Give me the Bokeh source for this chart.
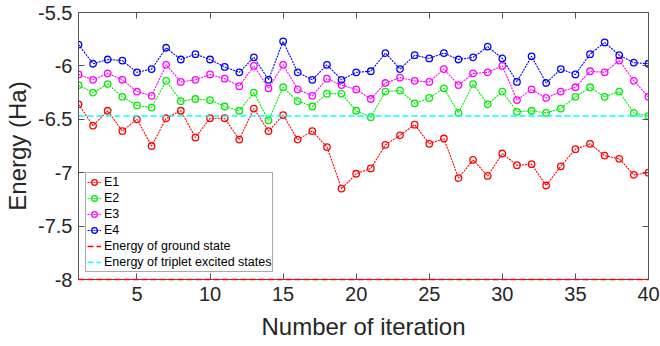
from bokeh.plotting import figure
from bokeh.models import (Range1d, LinearAxis, FixedTicker, CustomJSTickFormatter,
                          Legend, LegendItem)
from bokeh.embed import file_html
from bokeh.resources import INLINE

iters = list(range(1, 41))
E1 = [-6.36, -6.56, -6.42, -6.61, -6.50, -6.75, -6.49, -6.42, -6.67, -6.49,
      -6.49, -6.69, -6.40, -6.61, -6.46, -6.69, -6.61, -6.76, -7.15, -7.01,
      -6.96, -6.74, -6.65, -6.55, -6.73, -6.68, -7.05, -6.88, -7.03, -6.82,
      -6.93, -6.92, -7.12, -6.94, -6.78, -6.73, -6.84, -6.87, -7.02, -7.00]
E2 = [-6.18, -6.25, -6.17, -6.29, -6.37, -6.39, -6.14, -6.33, -6.31, -6.32,
      -6.38, -6.42, -6.25, -6.51, -6.20, -6.33, -6.38, -6.26, -6.26, -6.42,
      -6.48, -6.24, -6.23, -6.35, -6.30, -6.21, -6.44, -6.17, -6.36, -6.24,
      -6.43, -6.42, -6.44, -6.40, -6.29, -6.20, -6.29, -6.24, -6.44, -6.47]
E3 = [-6.08, -6.13, -6.07, -6.13, -6.24, -6.28, -5.99, -6.15, -6.13, -6.08,
      -6.12, -6.19, -6.00, -6.21, -5.99, -6.22, -6.28, -6.12, -6.18, -6.22,
      -6.31, -6.16, -6.11, -6.14, -6.15, -6.03, -6.18, -6.07, -6.06, -6.00,
      -6.32, -6.22, -6.30, -6.24, -6.20, -6.05, -6.06, -5.95, -6.14, -6.29]
E4 = [-5.80, -5.98, -5.94, -5.95, -6.06, -6.03, -5.83, -5.94, -5.89, -5.94,
      -6.01, -6.06, -5.92, -6.13, -5.77, -6.06, -6.13, -5.99, -6.13, -6.06,
      -6.05, -5.88, -6.03, -5.90, -5.93, -5.88, -5.94, -5.92, -5.82, -5.93,
      -6.15, -5.91, -6.16, -6.03, -6.08, -5.89, -5.78, -5.90, -5.97, -5.98]
ground_energy = -8.0
triplet_energy = -6.47

series_names = ["E1", "E2", "E3", "E4"]
series_colors = ["#ff0000", "#00ee00", "#ff00ff", "#0000ff"]
x_ticks = [5, 10, 15, 20, 25, 30, 35, 40]
y_ticks = [-8, -7.5, -7, -6.5, -6, -5.5]

FONT = "Liberation Sans"
AX = "#555555"
TXT = "#262626"

p = figure(width=660, height=346, x_range=Range1d(1, 40), y_range=Range1d(-8, -5.5),
           output_backend="svg", toolbar_location=None,
           min_border_left=78, min_border_right=12, min_border_top=12, min_border_bottom=67)
p.grid.visible = False
p.outline_line_color = None
p.background_fill_color = "white"

fmt = CustomJSTickFormatter(code="return tick.toString()")
blank = CustomJSTickFormatter(code="return ''")

for ax in p.xaxis:
    ax.ticker = FixedTicker(ticks=x_ticks)
    ax.axis_label = "Number of iteration"
    ax.major_label_standoff = 7
    ax.axis_label_standoff = 9
for ax in p.yaxis:
    ax.ticker = FixedTicker(ticks=y_ticks)
    ax.axis_label = "Energy (Ha)"
    ax.major_label_standoff = 6
    ax.axis_label_standoff = 4
for ax in list(p.xaxis) + list(p.yaxis):
    ax.formatter = fmt
    ax.major_tick_in = 6
    ax.major_tick_out = 0
    ax.minor_tick_line_color = None
    ax.axis_line_color = AX
    ax.major_tick_line_color = AX
    ax.major_label_text_font = FONT
    ax.major_label_text_font_size = "20px"
    ax.major_label_text_color = TXT
    ax.axis_label_text_font = FONT
    ax.axis_label_text_font_size = "24px"
    ax.axis_label_text_font_style = "normal"
    ax.axis_label_text_color = TXT

top = LinearAxis(ticker=FixedTicker(ticks=x_ticks), formatter=blank)
right = LinearAxis(ticker=FixedTicker(ticks=y_ticks), formatter=blank)
for ax in (top, right):
    ax.major_tick_in = 6
    ax.major_tick_out = 0
    ax.minor_tick_line_color = None
    ax.axis_line_color = AX
    ax.major_tick_line_color = AX
    ax.major_label_text_font_size = "0px"
    ax.major_label_standoff = 0
p.add_layout(top, "above")
p.add_layout(right, "right")

items = []
for name, vals, col in zip(series_names, [E1, E2, E3, E4], series_colors):
    l = p.line(iters, vals, line_color=col, line_width=1.1, line_dash="2 1")
    s = p.scatter(iters, vals, marker="circle", size=6.5, line_color=col,
                  fill_color=None, line_width=1.3)
    items.append(LegendItem(label=name, renderers=[l, s]))

g = p.line(iters, [ground_energy] * len(iters), line_color="#ff0000",
           line_width=1.5, line_dash="6 3")
g.level = "overlay"
t = p.line(iters, [triplet_energy] * len(iters), line_color="#00ffff",
           line_width=1.5, line_dash="6 3")
items.append(LegendItem(label="Energy of ground state", renderers=[g]))
items.append(LegendItem(label="Energy of triplet excited states", renderers=[t]))

legend = Legend(items=items, location=(7, 7), margin=0, padding=1, spacing=0,
                label_height=16, glyph_height=16, glyph_width=14, label_standoff=3,
                label_text_font=FONT, label_text_font_size="12.5px",
                label_text_color="#000000", border_line_color="#555555",
                border_line_width=1, background_fill_color="white",
                background_fill_alpha=1.0)
p.add_layout(legend, "center")

open("out.html", "w").write(file_html(p, INLINE))
